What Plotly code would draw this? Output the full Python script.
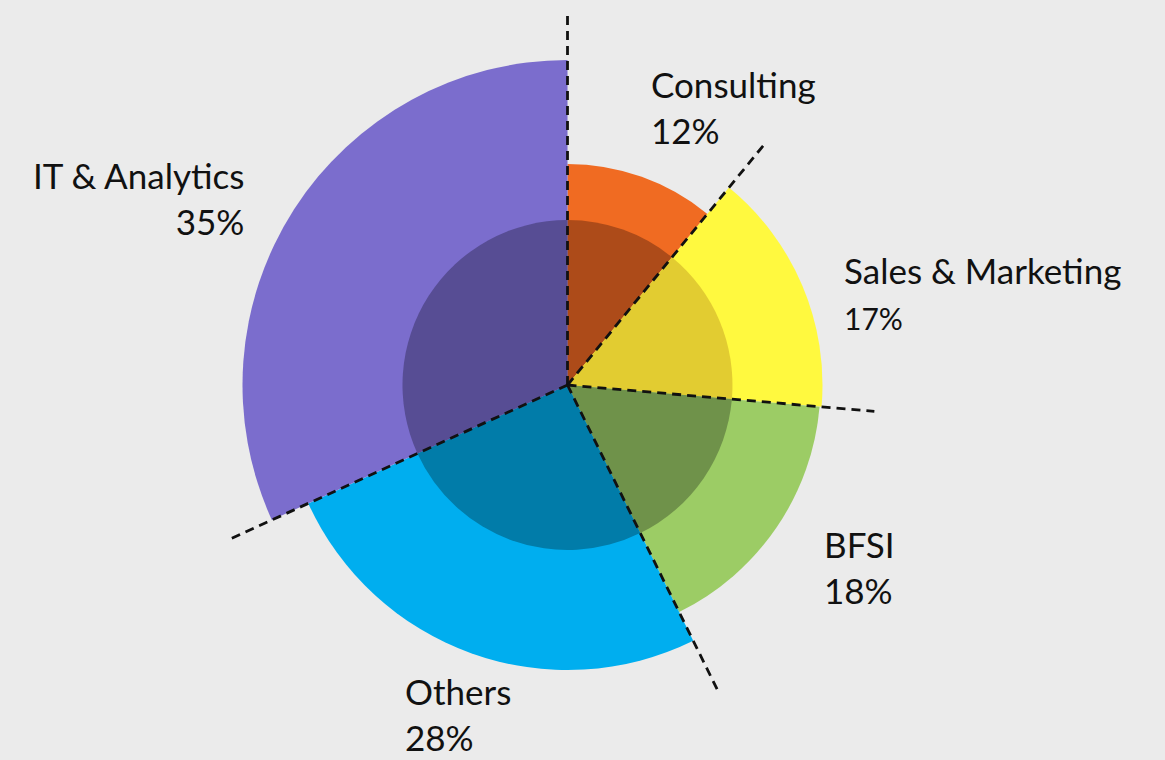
import plotly.graph_objects as go

# ---- data ----
categories = ["Consulting", "Sales & Marketing", "BFSI", "Others", "IT & Analytics"]
values = [12, 17, 18, 28, 35]            # percentages (angular share)
radii = [221, 255, 253, 285, 325]        # outer radius of each slice
inner_radius = [165, 165, 165, 165, 165]
colors = ["#F06B22", "#FFF93F", "#9CCC65", "#00AEEF", "#7B6DCD"]
inner_colors = ["#AD4B19", "#E2CC31", "#6F924A", "#017CA9", "#574D94"]
boundary_line_len = [370, 315, 308, 342, 370]  # dashed radial line lengths at slice starts

W, H = 1165, 760
CX, CY = 567.5, 385.0
RMAX = 372.0

total = sum(values)
widths = [v / total * 360 for v in values]
starts = []
acc = 0.0
for w in widths:
    starts.append(acc)
    acc += w
centers = [s + w / 2 for s, w in zip(starts, widths)]

fig = go.Figure()
fig.add_trace(go.Barpolar(
    r=radii, theta=centers, width=widths,
    marker=dict(color=colors, line=dict(width=0)),
    hoverinfo="skip", showlegend=False,
))
fig.add_trace(go.Barpolar(
    r=inner_radius, theta=centers, width=widths,
    marker=dict(color=inner_colors, line=dict(width=0)),
    hoverinfo="skip", showlegend=False,
))

lr, lt = [], []
for s, L in zip(starts, boundary_line_len):
    lr += [0, L, None]
    lt += [s, s, None]
fig.add_trace(go.Scatterpolar(
    r=lr, theta=lt, mode="lines",
    line=dict(color="#111111", width=2.8, dash="9px,6px"),
    hoverinfo="skip", showlegend=False,
))

fig.update_layout(
    width=W, height=H,
    margin=dict(l=0, r=0, t=0, b=0),
    paper_bgcolor="#EBEBEB",
    plot_bgcolor="#EBEBEB",
    polar=dict(
        domain=dict(x=[(CX - RMAX) / W, (CX + RMAX) / W],
                    y=[(H - CY - RMAX) / H, (H - CY + RMAX) / H]),
        bgcolor="rgba(0,0,0,0)",
        barmode="overlay",
        radialaxis=dict(range=[0, RMAX], visible=False, showgrid=False),
        angularaxis=dict(direction="clockwise", rotation=90, visible=False, showgrid=False),
    ),
)

FONT = dict(family="Lato, 'Open Sans', sans-serif", size=35, color="#111111")
# (x px, y px, horizontal align, vertical anchor)
label_pos = {
    "Consulting": (649, 61, "left", "top"),
    "Sales & Marketing": (842, 247, "left", "top"),
    "BFSI": (822, 521, "left", "top"),
    "Others": (403, 760, "left", "bottom"),
    "IT & Analytics": (246, 152, "right", "top"),
}
for cat, v in zip(categories, values):
    x, y, al, va = label_pos[cat]
    pct = f"{v}%"
    if cat == "Sales & Marketing":
        pct = f"<span style='font-size:30px'>{pct}</span>"
    fig.add_annotation(
        x=x / W, y=1 - y / H, xref="paper", yref="paper",
        xanchor=al, yanchor=va, align=al,
        text=f"{cat}<br>{pct}", showarrow=False, font=FONT,
    )

fig.write_html(
    "out.html",
    config={"displayModeBar": False},
    post_script="document.body.style.margin='0';document.body.style.background='#EBEBEB';",
)
